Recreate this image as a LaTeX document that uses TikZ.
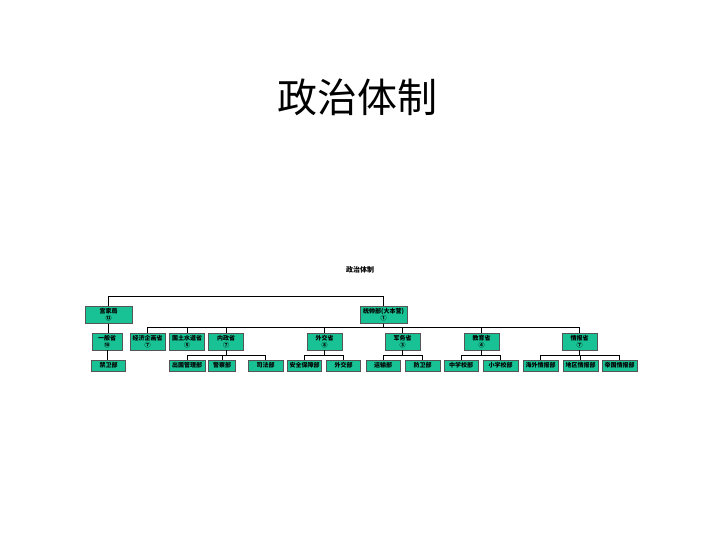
\documentclass[tikz,border=0pt]{standalone}
\usepackage{fontspec}
\usetikzlibrary{positioning}
\newfontfamily\cjk{Noto Sans CJK SC}
\definecolor{cBox}{HTML}{19C294}
\definecolor{cEdge}{HTML}{555555}

\begin{document}
\begin{tikzpicture}[
  x=1pt, y=-1pt,
  font=\cjk,
  org/.style  = {rectangle, draw=cEdge, line width=0.4pt, fill=cBox,
                 align=center, inner sep=0pt, minimum height=17pt,
                 font=\cjk\bfseries\fontsize{6}{7}\selectfont},
  top/.style  = {org, minimum width=47pt},
  mid/.style  = {org, minimum width=35pt},
  leaf/.style = {org, minimum width=34pt, minimum height=11pt},
  link/.style = {draw, line width=0.8pt}]

\useasboundingbox (0,0) rectangle (720,540);

% ---- titles -----------------------------------------------------------
\node[font=\cjk\fontsize{40}{44}\selectfont] (title) at (357,97) {政治体制};
\node[font=\cjk\bfseries\fontsize{7}{8}\selectfont] (root) at (360,270) {政治体制};

% ---- first level ------------------------------------------------------
\node[top] (gj)  at (108.5,315) {宫家局\\⑫};
\node[top] (tsb) at (383.5,315) {统帅部(大本营)\\①};

% ---- second level -----------------------------------------------------
\node[mid, minimum width=30pt] (ybs) at (107,341.5) {一般省\\⑩};
\node[mid] (jj) at (147.5,341.5) {经济企画省\\⑦};
\node[mid] (gt) at (187,341.5)   {国土水道省\\⑤};
\node[mid] (nz) at (226,341.5)   {内政省\\⑦};
\node[mid] (wj) at (324.5,341.5) {外交省\\⑧};
\node[mid] (jw) at (402.5,341.5) {军务省\\③};
\node[mid] (jy) at (481.5,341.5) {教育省\\④};
\node[mid] (qb) at (579.5,341.5) {情报省\\⑦};

% ---- third level ------------------------------------------------------
\node[leaf] (jwb)  at (108.5,365.5) {禁卫部};
\node[leaf, minimum width=36pt] (cgb) at (187,365.5) {出国管理部};
\node[leaf, minimum width=27pt] (jcb) at (222,365.5) {警察部};
\node[leaf, minimum width=35pt] (sfb) at (265.5,365.5) {司法部};
\node[leaf] (aqb)  at (304.5,365.5) {安全保障部};
\node[leaf] (wjb)  at (343.5,365.5) {外交部};
\node[leaf] (ysb)  at (383,365.5)   {运输部};
\node[leaf, minimum width=35pt] (fwb) at (422.5,365.5) {防卫部};
\node[leaf] (zxb)  at (461,365.5)   {中学校部};
\node[leaf, minimum width=35pt] (xxb) at (500.5,365.5) {小学校部};
\node[leaf, minimum width=35pt] (hwb) at (540.5,365.5) {海外情报部};
\node[leaf, minimum width=35pt] (dqb) at (580.5,365.5) {地区情报部};
\node[leaf, minimum width=35pt] (dgb) at (619.5,365.5) {帝国情报部};

% ---- connectors -------------------------------------------------------
\draw[link] (gj.north) -- ++(0,-10) -| (tsb.north);
\draw[link] (gj.south) -- (gj.south |- ybs.north);
\draw[link] (ybs.south) -- (ybs.south |- jwb.north);
\foreach \c in {jj, gt, nz, wj, jw, jy, qb}
  \draw[link] (tsb.south) -- ++(0,4) -| (\c.north);
\foreach \c in {cgb, jcb, sfb}
  \draw[link] (nz.south) -- ++(0,5) -| (\c.north);
\foreach \c in {aqb, wjb}
  \draw[link] (wj.south) -- ++(0,5) -| (\c.north);
\foreach \c in {ysb, fwb}
  \draw[link] (jw.south) -- ++(0,5) -| (\c.north);
\foreach \c in {zxb, xxb}
  \draw[link] (jy.south) -- ++(0,5) -| (\c.north);
\foreach \c in {hwb, dqb, dgb}
  \draw[link] (qb.south) -- ++(0,5) -| (\c.north);

\end{tikzpicture}
\end{document}
